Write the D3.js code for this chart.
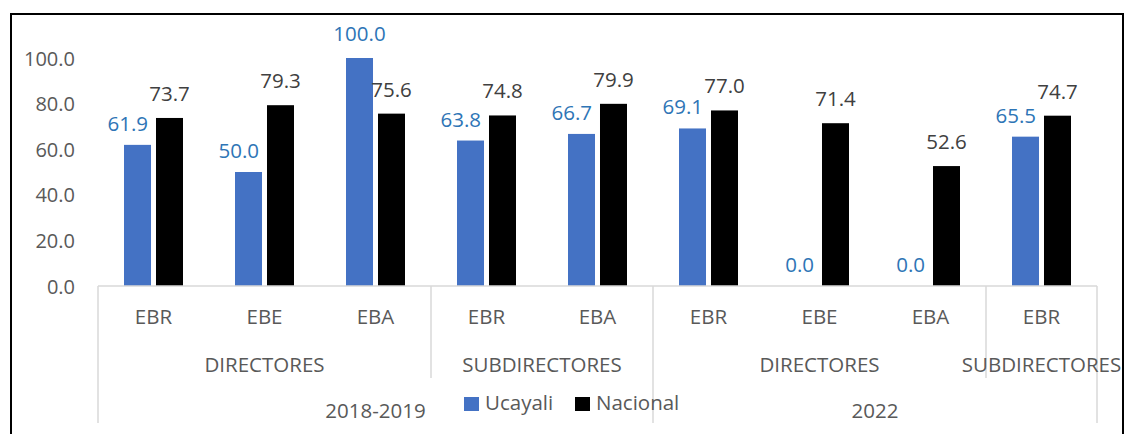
<!DOCTYPE html>
<html>
<head>
<meta charset="utf-8">
<script src="https://cdn.jsdelivr.net/npm/d3@7"></script>
<style>
  body { margin: 0; background: #fff; }
  text { font-family: "Open Sans", sans-serif; }
</style>
</head>
<body>
<div id="chart"></div>
<script>
// chart values
let categories = ["EBR", "EBE", "EBA", "EBR", "EBA", "EBR", "EBE", "EBA", "EBR"];
let roles = ["DIRECTORES", "DIRECTORES", "DIRECTORES", "SUBDIRECTORES", "SUBDIRECTORES",
             "DIRECTORES", "DIRECTORES", "DIRECTORES", "SUBDIRECTORES"];
let periods = ["2018-2019", "2018-2019", "2018-2019", "2018-2019", "2018-2019",
               "2022", "2022", "2022", "2022"];
let ucayali = [61.9, 50.0, 100.0, 63.8, 66.7, 69.1, 0.0, 0.0, 65.5];
let nacional = [73.7, 79.3, 75.6, 74.8, 79.9, 77.0, 71.4, 52.6, 74.7];
let seriesNames = ["Ucayali", "Nacional"];
let yTicks = [0, 20, 40, 60, 80, 100];

let width = 1125;
let height = 434;
let margin = ({top: 58, right: 28, bottom: 148, left: 98});

let blue = "#4472C4";
let labelBlue = "#2E75B6";
let grey = "#595959";
let lineGrey = "#D9D9D9";
let fontSize = "20.5px";

let svg = d3.select("#chart")
    .append("svg")
    .attr("width", width)
    .attr("height", height);

// outer frame (bottom edge runs off the picture)
svg.append("rect")
    .attr("x", 11)
    .attr("y", 14)
    .attr("width", 1112)
    .attr("height", 500)
    .attr("fill", "none")
    .attr("stroke", "#000")
    .attr("stroke-width", 2);

let idx = d3.range(categories.length);

let x0 = d3.scaleBand()
    .domain(idx)
    .range([margin.left, width - margin.right])
    .padding(0);

let x1 = d3.scaleBand()
    .domain(seriesNames)
    .range([0, x0.bandwidth()])
    .paddingInner(0.156)
    .paddingOuter(0.8125);

let y = d3.scaleLinear()
    .domain([0, 100])
    .range([height - margin.bottom, margin.top]);

let baseY = y(0);

// y tick labels (no axis line)
let yAxis = d3.axisLeft(y)
    .tickValues(yTicks)
    .tickFormat(d3.format(".1f"))
    .tickSize(0)
    .tickPadding(0);

let yG = svg.append("g")
    .attr("transform", "translate(75,0)")
    .call(yAxis);
yG.select(".domain").remove();
yG.selectAll("text")
    .attr("dy", null)
    .attr("y", 7)
    .style("font-size", "20px")
    .style("font-family", "Open Sans")
    .attr("fill", grey);

// bars
let rows = idx.map(function(i) {
    return {i: i, values: [
        {name: "Ucayali", value: ucayali[i], other: nacional[i]},
        {name: "Nacional", value: nacional[i], other: ucayali[i]}
    ]};
});

let groups = svg.selectAll(".grp")
    .data(rows)
    .enter()
    .append("g")
    .attr("class", "grp")
    .attr("transform", function(d) { return "translate(" + x0(d.i) + ",0)"; });

groups.selectAll("rect")
    .data(function(d) { return d.values; })
    .enter()
    .append("rect")
    .attr("x", function(d) { return x1(d.name); })
    .attr("y", function(d) { return y(d.value); })
    .attr("width", x1.bandwidth())
    .attr("height", function(d) { return baseY - y(d.value); })
    .attr("fill", function(d) { return d.name === "Ucayali" ? blue : "#000"; });

// data labels: black ones centred, blue ones pushed left unless they sit higher
function pushedLeft(d) { return d.name === "Ucayali" && d.value <= d.other; }

groups.selectAll(".lbl")
    .data(function(d) { return d.values; })
    .enter()
    .append("text")
    .attr("class", "lbl")
    .attr("x", function(d) {
        if (pushedLeft(d)) return x1(d.name) + x1.bandwidth() - 3;
        return x1(d.name) + x1.bandwidth() / 2;
    })
    .attr("y", function(d) {
        if (pushedLeft(d)) return y(d.value) - 14;
        return y(d.value) - 17;
    })
    .attr("text-anchor", function(d) { return pushedLeft(d) ? "end" : "middle"; })
    .attr("fill", function(d) { return d.name === "Ucayali" ? labelBlue : "#404040"; })
    .style("font-size", fontSize)
    .text(function(d) { return d3.format(".1f")(d.value); });

// category axis line
svg.append("line")
    .attr("x1", margin.left)
    .attr("x2", width - margin.right)
    .attr("y1", baseY)
    .attr("y2", baseY)
    .attr("stroke", lineGrey)
    .attr("stroke-width", 1.5);

// level 1 labels
svg.selectAll(".cat")
    .data(idx)
    .enter()
    .append("text")
    .attr("class", "cat")
    .attr("x", function(i) { return x0(i) + x0.bandwidth() / 2; })
    .attr("y", 324)
    .attr("text-anchor", "middle")
    .attr("fill", grey)
    .style("font-size", fontSize)
    .text(function(i) { return categories[i]; });

// runs of equal keys -> spans
function spans(keys) {
    let out = [];
    keys.forEach(function(k, i) {
        let last = out[out.length - 1];
        if (last && last.key === k && periods[i] === periods[last.end]) last.end = i;
        else out.push({key: k, start: i, end: i});
    });
    return out;
}

let roleSpans = spans(roles);
let periodSpans = spans(periods);

function spanX0(s) { return x0(s.start); }
function spanX1(s) { return x0(s.end) + x0.bandwidth(); }
function spanMid(s) { return (spanX0(s) + spanX1(s)) / 2; }

// separators: role boundaries short, period boundaries long
let periodEdges = [];
periodSpans.forEach(function(s) { periodEdges.push(spanX0(s)); periodEdges.push(spanX1(s)); });
let roleEdges = roleSpans.map(spanX0).filter(function(v) {
    return periodEdges.indexOf(v) < 0;
});

svg.selectAll(".sepRole")
    .data(roleEdges)
    .enter()
    .append("line")
    .attr("x1", function(d) { return d; })
    .attr("x2", function(d) { return d; })
    .attr("y1", baseY)
    .attr("y2", 378)
    .attr("stroke", lineGrey)
    .attr("stroke-width", 1.5);

svg.selectAll(".sepPeriod")
    .data(Array.from(new Set(periodEdges)))
    .enter()
    .append("line")
    .attr("x1", function(d) { return d; })
    .attr("x2", function(d) { return d; })
    .attr("y1", baseY)
    .attr("y2", 423)
    .attr("stroke", lineGrey)
    .attr("stroke-width", 1.5);

svg.selectAll(".role")
    .data(roleSpans)
    .enter()
    .append("text")
    .attr("x", spanMid)
    .attr("y", 372)
    .attr("text-anchor", "middle")
    .attr("fill", grey)
    .style("font-size", fontSize)
    .text(function(d) { return d.key; });

svg.selectAll(".period")
    .data(periodSpans)
    .enter()
    .append("text")
    .attr("x", spanMid)
    .attr("y", 418)
    .attr("text-anchor", "middle")
    .attr("fill", grey)
    .style("font-size", fontSize)
    .text(function(d) { return d.key; });

// legend
let legendX = [464, 575];
let legend = svg.append("g");
legend.selectAll("rect")
    .data(seriesNames)
    .enter()
    .append("rect")
    .attr("x", function(d, i) { return legendX[i]; })
    .attr("y", 397)
    .attr("width", 15)
    .attr("height", 14)
    .attr("fill", function(d) { return d === "Ucayali" ? blue : "#000"; });
legend.selectAll("text")
    .data(seriesNames)
    .enter()
    .append("text")
    .attr("x", function(d, i) { return legendX[i] + 21; })
    .attr("y", 410)
    .attr("fill", grey)
    .style("font-size", fontSize)
    .text(function(d) { return d; });
</script>
</body>
</html>
